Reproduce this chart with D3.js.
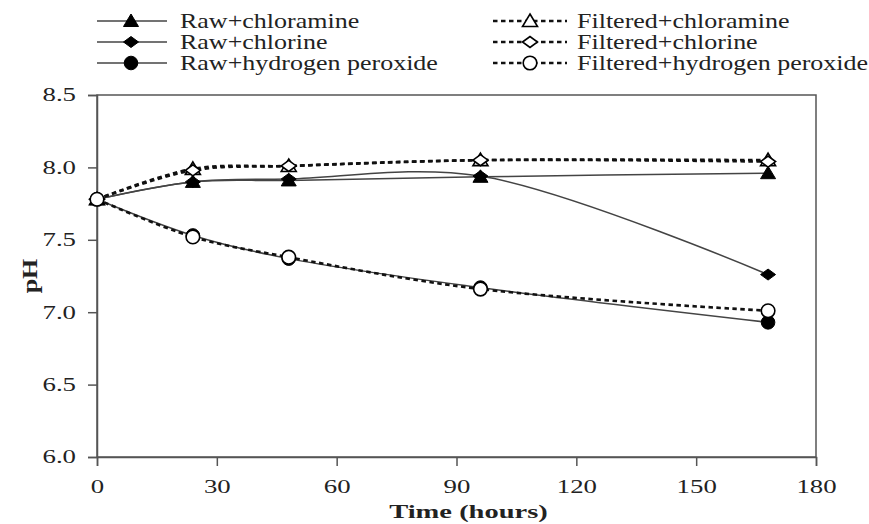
<!DOCTYPE html>
<html>
<head>
<meta charset="utf-8">
<script src="https://cdn.jsdelivr.net/npm/d3@7/dist/d3.min.js"></script>
<style>
  html, body { margin: 0; padding: 0; background: #fff; }
  svg { display: block; }
  text { font-family: "Liberation Serif", "Times New Roman", serif; fill: #222; }
</style>
</head>
<body>
<svg id="chart" width="869" height="524"></svg>
<script>
// Sampling times (hours)
const hours = [0, 24, 48, 96, 168];

// pH readings per treatment
const rawChloramine      = [7.78, 7.90, 7.91, 7.935, 7.96];
const rawChlorine        = [7.78, 7.90, 7.92, 7.94, 7.26];
const rawPeroxide        = [7.78, 7.53, 7.37, 7.17, 6.93];
const filteredChloramine = [7.78, 7.99, 8.01, 8.05, 8.05];
const filteredChlorine   = [7.78, 7.98, 8.01, 8.05, 8.04];
const filteredPeroxide   = [7.78, 7.52, 7.38, 7.16, 7.01];

const seriesNames = [
  "Raw+chloramine", "Raw+chlorine", "Raw+hydrogen peroxide",
  "Filtered+chloramine", "Filtered+chlorine", "Filtered+hydrogen peroxide"
];

const xTicks = [0, 30, 60, 90, 120, 150, 180];
const yTicks = [6.0, 6.5, 7.0, 7.5, 8.0, 8.5];

const series = [
  { name: seriesNames[0], values: rawChloramine,      shape: "triangle", filled: true,  dashed: false },
  { name: seriesNames[1], values: rawChlorine,        shape: "diamond",  filled: true,  dashed: false },
  { name: seriesNames[2], values: rawPeroxide,        shape: "circle",   filled: true,  dashed: false },
  { name: seriesNames[3], values: filteredChloramine, shape: "triangle", filled: false, dashed: true },
  { name: seriesNames[4], values: filteredChlorine,   shape: "diamond",  filled: false, dashed: true },
  { name: seriesNames[5], values: filteredPeroxide,   shape: "circle",   filled: false, dashed: true }
];

const svg = d3.select("#chart");
const plotLeft = 97, plotRight = 816, plotTop = 95, plotBottom = 457;
const stretch = 1.3;   // wide serif lettering

const x = d3.scaleLinear().domain([0, 180]).range([plotLeft, plotRight]);
const y = d3.scaleLinear().domain([6.0, 8.5]).range([plotBottom, plotTop]);

const axisColor = "#555";

// Frame
svg.append("rect")
  .attr("x", plotLeft).attr("y", plotTop)
  .attr("width", plotRight - plotLeft).attr("height", plotBottom - plotTop)
  .attr("fill", "none").attr("stroke", axisColor).attr("stroke-width", 1.5);

// Axes
const xAxis = svg.append("g")
  .attr("transform", `translate(0,${plotBottom})`)
  .call(d3.axisBottom(x).tickValues(xTicks).tickSize(9).tickPadding(14).tickFormat(d3.format("d")));
const yAxis = svg.append("g")
  .attr("transform", `translate(${plotLeft},0)`)
  .call(d3.axisLeft(y).tickValues(yTicks).tickSize(9).tickPadding(12).tickFormat(d3.format(".1f")));

[xAxis, yAxis].forEach(g => {
  g.select(".domain").attr("stroke", axisColor).attr("stroke-width", 1.5);
  g.selectAll(".tick line").attr("stroke", axisColor).attr("stroke-width", 1.5);
  g.selectAll(".tick text")
    .attr("font-family", "Liberation Serif, serif")
    .attr("font-size", 18.5)
    .attr("fill", "#333")
    .each(function () {
      const t = d3.select(this);
      const ox = +t.attr("x") || 0;
      t.attr("x", ox / 1.45).attr("transform", "scale(1.45,1)");
    });
});

// Axis titles
svg.append("text")
  .attr("transform", `translate(${(plotLeft + plotRight) / 2 + 12},518) scale(1.5,1)`)
  .attr("text-anchor", "middle")
  .attr("font-size", 19).attr("font-weight", "bold")
  .text("Time (hours)");

svg.append("text")
  .attr("transform", `translate(37,${(plotTop + plotBottom) / 2}) rotate(-90) scale(1.3,1)`)
  .attr("text-anchor", "middle")
  .attr("font-size", 20).attr("font-weight", "bold")
  .text("pH");

// Marker shapes
function markerPath(shape) {
  if (shape === "triangle") return "M0,-7L7.5,5.5L-7.5,5.5Z";
  if (shape === "diamond") return "M-7.5,0L0,-5.5L7.5,0L0,5.5Z";
  return d3.symbol().type(d3.symbolCircle).size(Math.PI * 6.8 * 6.8)();
}

const line = d3.line()
  .x(d => x(d[0]))
  .y(d => y(d[1]))
  .curve(d3.curveCatmullRom);

// Lines: raw series solid, filtered series dashed
series.forEach(s => {
  const pts = hours.map((h, i) => [h, s.values[i]]);
  svg.append("path")
    .datum(pts)
    .attr("d", line)
    .attr("fill", "none")
    .attr("stroke", s.dashed ? "#111" : "#444")
    .attr("stroke-width", s.dashed ? 2.6 : 1.5)
    .attr("stroke-dasharray", s.dashed ? "4.5,3.5" : null);
});

// Markers
series.forEach(s => {
  svg.append("g").selectAll("path")
    .data(hours.map((h, i) => [h, s.values[i]]))
    .join("path")
    .attr("transform", d => `translate(${x(d[0])},${y(d[1])})`)
    .attr("d", markerPath(s.shape))
    .attr("fill", s.filled ? "#000" : "#fff")
    .attr("stroke", "#000")
    .attr("stroke-width", s.filled ? 1 : 1.6);
});

// Legend
const legendCols = [
  { lineX0: 97, lineX1: 167, markX: 131, textX: 180 },
  { lineX0: 493, lineX1: 567, markX: 530, textX: 577 }
];
const legendRows = [21, 42, 63];

series.forEach((s, i) => {
  const col = legendCols[s.dashed ? 1 : 0];
  const ry = legendRows[i % 3];
  const g = svg.append("g");
  g.append("line")
    .attr("x1", col.lineX0).attr("x2", col.lineX1)
    .attr("y1", ry).attr("y2", ry)
    .attr("stroke", s.dashed ? "#111" : "#444")
    .attr("stroke-width", s.dashed ? 2.6 : 1.5)
    .attr("stroke-dasharray", s.dashed ? "4.5,3.5" : null);
  g.append("path")
    .attr("transform", `translate(${col.markX},${ry})`)
    .attr("d", markerPath(s.shape))
    .attr("fill", s.filled ? "#000" : "#fff")
    .attr("stroke", "#000")
    .attr("stroke-width", s.filled ? 1 : 1.6);
  g.append("text")
    .attr("transform", `translate(${col.textX},${ry + 7}) scale(${stretch},1)`)
    .attr("font-size", 20)
    .text(s.name);
});
</script>
</body>
</html>
